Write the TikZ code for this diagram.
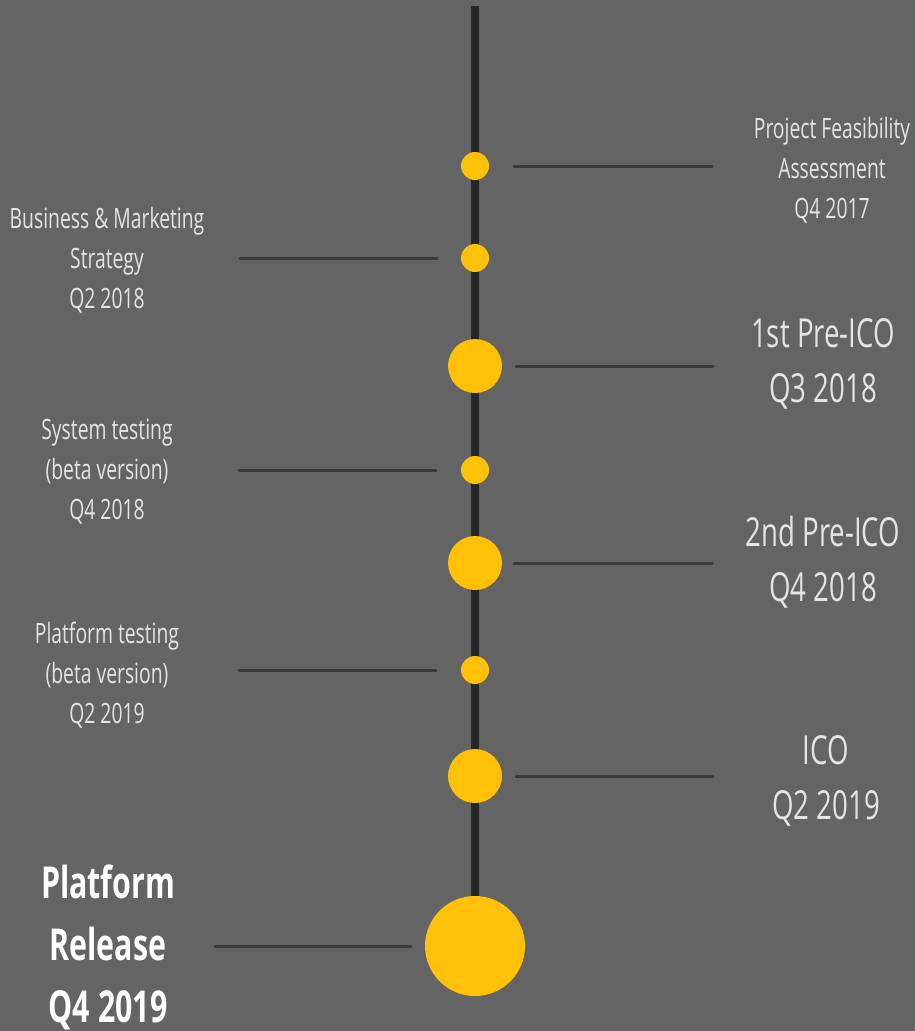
\documentclass[tikz,border=0pt]{standalone}
\usepackage{fontspec}
\setmainfont{Open Sans}[FakeStretch=0.69]
\usepackage{tikz}
\usetikzlibrary{positioning}

\definecolor{bgGrey}{HTML}{646464}
\definecolor{spineGrey}{HTML}{262626}
\definecolor{tickGrey}{HTML}{3A3A3A}
\definecolor{dotYellow}{HTML}{FFC107}
\definecolor{textGrey}{HTML}{E4E4E4}

\begin{document}
\begin{tikzpicture}[x=1pt,y=-1pt,
    dot/.style={circle,fill=dotYellow,inner sep=0pt},
    tick/.style={tickGrey,line width=3pt,line cap=round},
    spine/.style={spineGrey,line width=8pt},
    small label/.style={textGrey,align=center,font=\fontsize{28}{40}\selectfont},
    big label/.style={textGrey,align=center,font=\fontsize{40}{55}\selectfont},
    final label/.style={white,align=center,font=\bfseries\fontsize{44}{62}\selectfont}]
  \fill[bgGrey] (0,0) rectangle (915,1031);
  \useasboundingbox (0,0) rectangle (915,1031);
  % the vertical time line
  \coordinate (top) at (475,6);
  \coordinate (bottom) at (475,900);
  \draw[spine] (top) -- (bottom);
  % milestones: name / y / radius / tick start / tick end
  \foreach \n/\y/\r/\xa/\xb in {a/166/14/514/712, b/258/14/240/437,
      c/366/27/516/713, d/470/14/239/436, e/563/27/514/712,
      f/670/14/239/436, g/776/27/516/713, h/946/50/215/411}{
    \node[dot,minimum size=2*\r] (dot-\n) at (475,\y) {};
    \coordinate (in-\n) at (\xa,\y);
    \coordinate (out-\n) at (\xb,\y);
    \draw[tick] (in-\n) -- (out-\n);
  }
  \node[small label] (lab-a) at (832,170) {Project Feasibility\\Assessment\\Q4 2017};
  \node[small label] (lab-b) at (107,260) {Business \& Marketing\\Strategy\\Q2 2018};
  \node[big label] (lab-c) at (823,364) {1st Pre-ICO\\Q3 2018};
  \node[small label] (lab-d) at (107,472) {System testing\\(beta version)\\Q4 2018};
  \node[big label] (lab-e) at (823,562) {2nd Pre-ICO\\Q4 2018};
  \node[small label] (lab-f) at (107,675) {Platform testing\\(beta version)\\Q2 2019};
  \node[big label] (lab-g) at (826,781) {ICO\\Q2 2019};
  \node[final label] (lab-h) at (108,947) {Platform\\Release\\Q4 2019};
\end{tikzpicture}
\end{document}
